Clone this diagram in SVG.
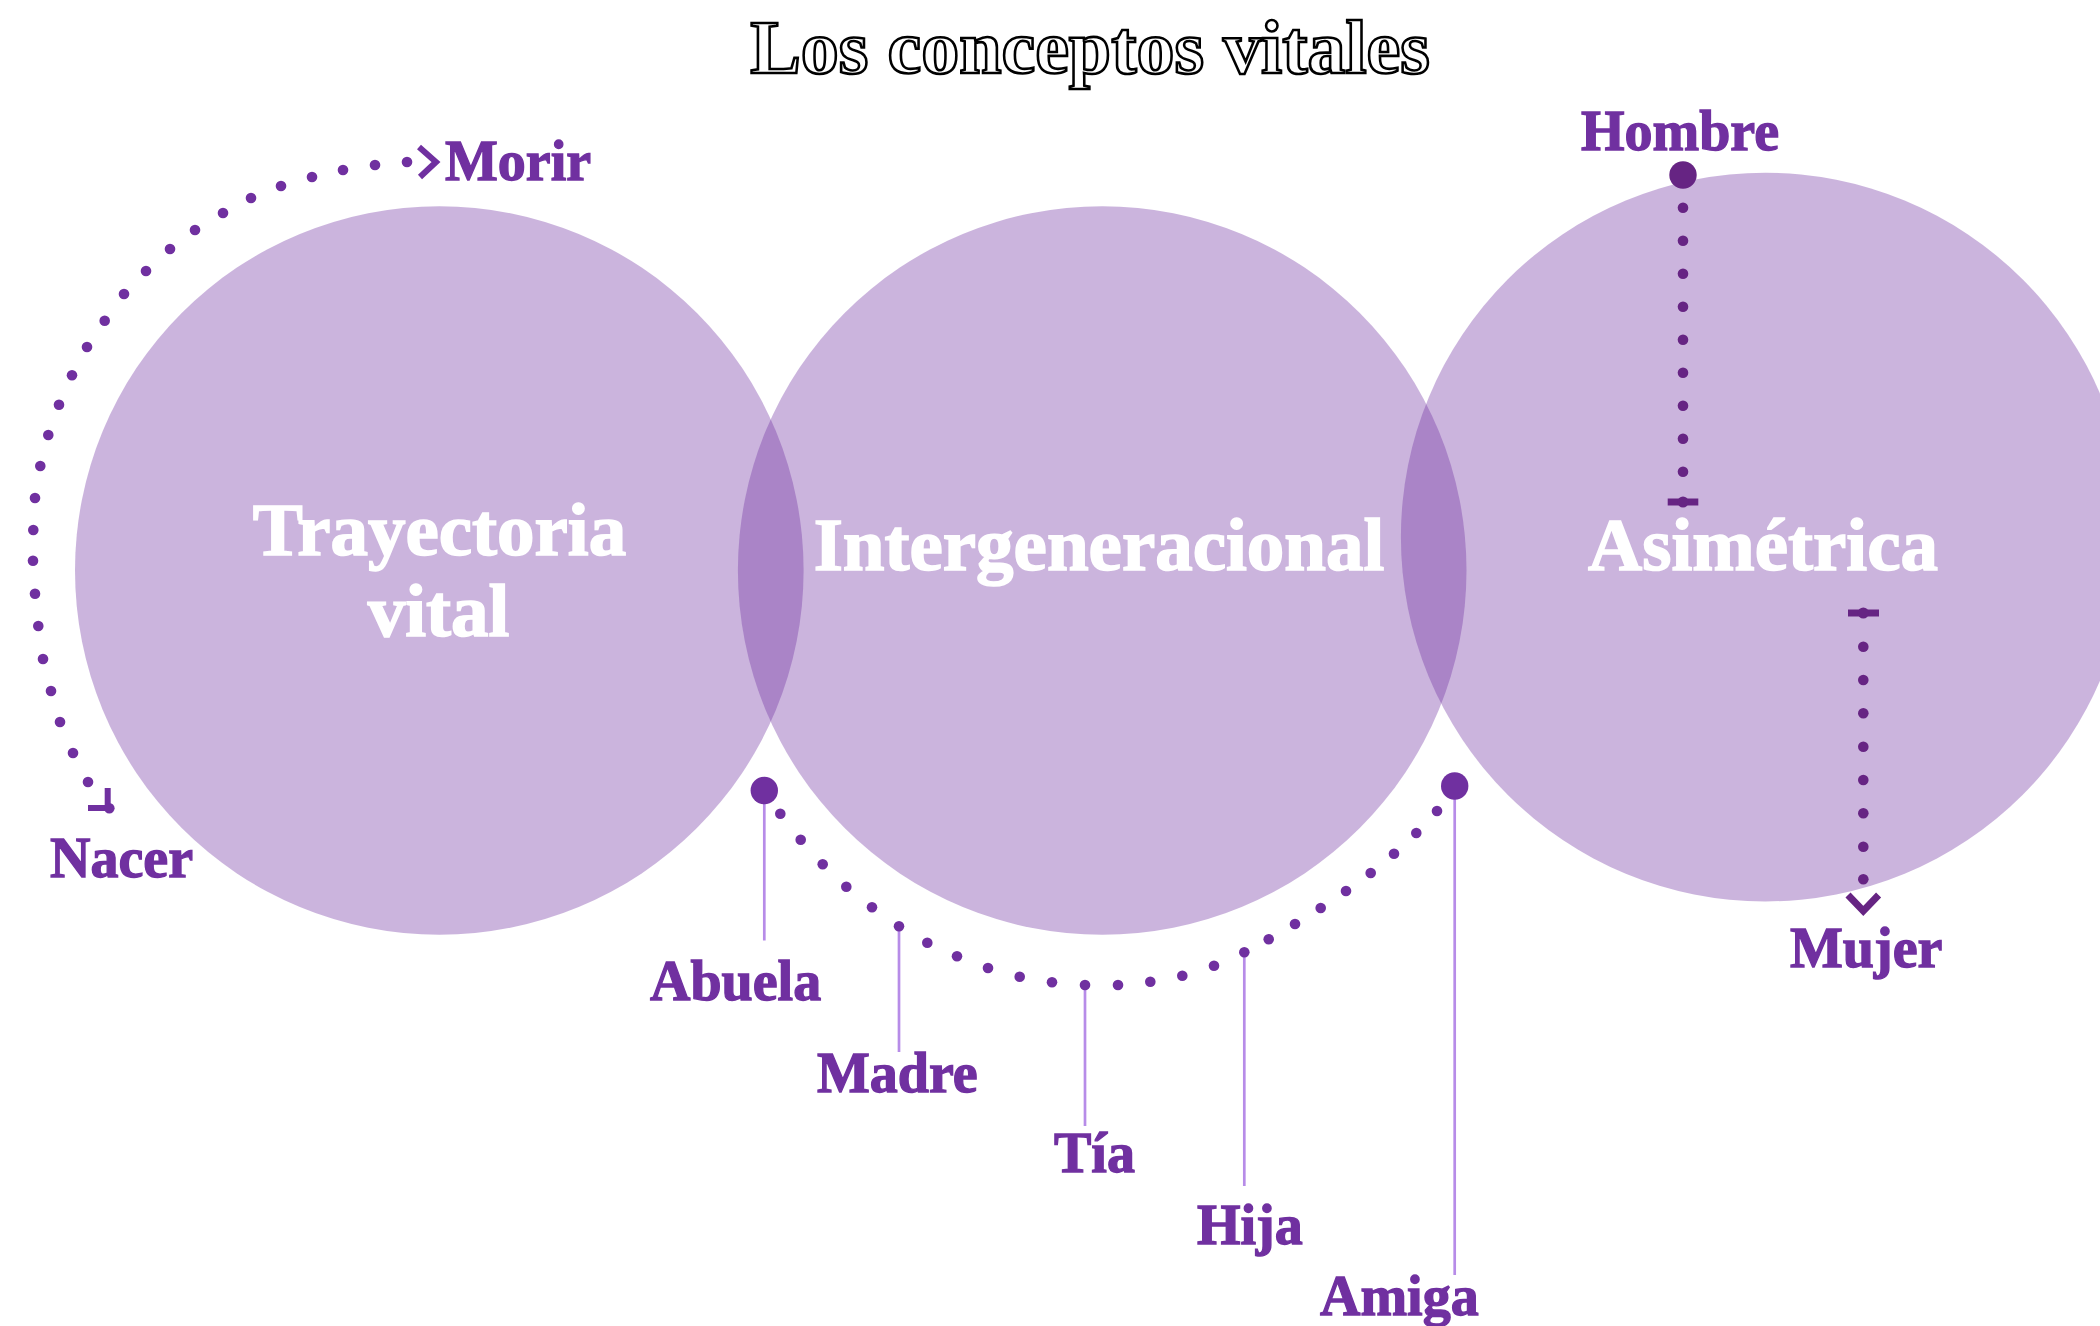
<svg xmlns="http://www.w3.org/2000/svg" width="2100" height="1326" viewBox="0 0 2100 1326">
<style>
.circ{fill:#7030a0;fill-opacity:0.36}
.big{font-family:"Liberation Serif","Times New Roman",serif;font-weight:700;font-size:75px;fill:#ffffff;stroke:#ffffff;stroke-width:1.6;text-anchor:middle}
.lbl{font-family:"Liberation Serif","Times New Roman",serif;font-weight:700;font-size:56px;fill:#7030a0;stroke:#7030a0;stroke-width:1.3}
.title{font-family:"Liberation Serif","Times New Roman",serif;font-weight:700;font-size:76px;fill:#ffffff;stroke:#000000;stroke-width:2.6;text-anchor:middle}
.d{fill:#7030a0}
.dd{fill:#662483}
.stem{stroke:#b78ce8;stroke-width:2.7;fill:none}
.mk{stroke:#7030a0;stroke-width:6;fill:none}
.mkd{stroke:#662483;stroke-width:7;fill:none}
</style>
<rect width="2100" height="1326" fill="#ffffff"/>
<g id="title"><text class="title" x="1090" y="73">Los conceptos vitales</text></g>
<g id="node-trayectoria">
<circle class="circ" cx="439.3" cy="570.5" r="364.3"/>
<text class="big" x="439.5" y="555">Trayectoria</text>
<text class="big" x="438.5" y="636">vital</text>
</g>
<g id="node-intergeneracional">
<circle class="circ" cx="1102.2" cy="570.5" r="364.3"/>
<text class="big" x="1099" y="570">Intergeneracional</text>
</g>
<g id="node-asimetrica">
<circle class="circ" cx="1765.2" cy="537.1" r="364.3"/>
<text class="big" x="1763" y="570">Asimétrica</text>
</g>
<g id="connectors">
<g id="arc-vida" class="d">
<path class="mk" d="M88,808 H113 M107.7,788 V810"/>
<circle cx="109.3" cy="808.3" r="5.3"/>
<circle cx="88" cy="782" r="5.3"/><circle cx="73" cy="753" r="5.3"/><circle cx="60" cy="722" r="5.3"/><circle cx="51" cy="691" r="5.3"/><circle cx="43" cy="659" r="5.3"/><circle cx="38.3" cy="626" r="5.3"/><circle cx="35" cy="593.7" r="5.3"/><circle cx="33" cy="560.7" r="5.3"/><circle cx="33.3" cy="530" r="5.3"/><circle cx="35" cy="498" r="5.3"/><circle cx="40.3" cy="466" r="5.3"/><circle cx="48.3" cy="435" r="5.3"/><circle cx="59" cy="404.7" r="5.3"/><circle cx="72" cy="375.3" r="5.3"/><circle cx="87" cy="347" r="5.3"/><circle cx="104.7" cy="320.7" r="5.3"/><circle cx="124" cy="294" r="5.3"/><circle cx="146" cy="271" r="5.3"/><circle cx="170" cy="249" r="5.3"/><circle cx="195" cy="230" r="5.3"/><circle cx="223" cy="213" r="5.3"/><circle cx="251" cy="198" r="5.3"/><circle cx="281" cy="186" r="5.3"/><circle cx="312" cy="177" r="5.3"/><circle cx="343" cy="170" r="5.3"/><circle cx="375" cy="165" r="5.3"/><circle cx="407" cy="162" r="5.3"/>
<path class="mk" d="M419,147 L436,162 L420,177"/>
</g>
<g id="arc-familia">
<line class="stem" x1="764.3" y1="790" x2="764.3" y2="940.5"/>
<line class="stem" x1="899" y1="926" x2="899" y2="1052"/>
<line class="stem" x1="1085" y1="985" x2="1085" y2="1126"/>
<line class="stem" x1="1244.3" y1="952" x2="1244.3" y2="1186"/>
<line class="stem" x1="1454.7" y1="786" x2="1454.7" y2="1275"/>
<g class="d">
<circle cx="764.3" cy="790.5" r="13.7"/>
<circle cx="1454.7" cy="786" r="13.7"/>
<circle cx="780.3" cy="813.7" r="5.3"/><circle cx="800.7" cy="839.7" r="5.3"/><circle cx="822.7" cy="864.3" r="5.3"/><circle cx="846.3" cy="886.7" r="5.3"/><circle cx="872" cy="907.3" r="5.3"/><circle cx="899" cy="926.3" r="5.3"/><circle cx="927.3" cy="942.7" r="5.3"/><circle cx="957" cy="956.3" r="5.3"/><circle cx="988" cy="968" r="5.3"/><circle cx="1019.7" cy="976.7" r="5.3"/><circle cx="1052" cy="982.3" r="5.3"/><circle cx="1085" cy="985" r="5.3"/><circle cx="1118" cy="985" r="5.3"/><circle cx="1150.3" cy="981.7" r="5.3"/><circle cx="1182.3" cy="975.7" r="5.3"/><circle cx="1214" cy="965.7" r="5.3"/><circle cx="1244.3" cy="952.3" r="5.3"/><circle cx="1268.7" cy="939.3" r="5.3"/><circle cx="1295" cy="924" r="5.3"/><circle cx="1320.7" cy="908" r="5.3"/><circle cx="1346" cy="891" r="5.3"/><circle cx="1370.7" cy="873" r="5.3"/><circle cx="1394" cy="853.7" r="5.3"/><circle cx="1416.3" cy="833" r="5.3"/><circle cx="1437" cy="811" r="5.3"/>
</g>
</g>
<g id="linea-hombre" class="dd">
<circle cx="1683" cy="175" r="13.7"/>
<circle cx="1683" cy="207.7" r="5.3"/><circle cx="1683" cy="240.7" r="5.3"/><circle cx="1683" cy="273.7" r="5.3"/><circle cx="1683" cy="306.7" r="5.3"/><circle cx="1683" cy="339.7" r="5.3"/><circle cx="1683" cy="372.7" r="5.3"/><circle cx="1683" cy="405.7" r="5.3"/><circle cx="1683" cy="438.7" r="5.3"/><circle cx="1683" cy="471.7" r="5.3"/>
<path class="mkd" d="M1667.7,502 H1698.3"/>
<circle cx="1683" cy="502" r="5.5"/>
</g>
<g id="linea-mujer" class="dd">
<path class="mkd" d="M1848,613 H1879"/>
<circle cx="1863.3" cy="613" r="5.5"/>
<circle cx="1863.3" cy="646.7" r="5.3"/><circle cx="1863.3" cy="680" r="5.3"/><circle cx="1863.3" cy="713.3" r="5.3"/><circle cx="1863.3" cy="746.7" r="5.3"/><circle cx="1863.3" cy="780" r="5.3"/><circle cx="1863.3" cy="813.3" r="5.3"/><circle cx="1863.3" cy="846.7" r="5.3"/><circle cx="1863.3" cy="879.3" r="5.3"/>
<path class="mkd" d="M1848,895 L1863.3,911 L1878.6,895"/>
</g>
</g>
<g id="label-morir"><text class="lbl" x="445" y="180">Morir</text></g>
<g id="label-nacer"><text class="lbl" x="50" y="877">Nacer</text></g>
<g id="label-hombre"><text class="lbl" x="1581" y="150">Hombre</text></g>
<g id="label-mujer"><text class="lbl" x="1790" y="967">Mujer</text></g>
<g id="label-abuela"><text class="lbl" x="650" y="1000">Abuela</text></g>
<g id="label-madre"><text class="lbl" x="817" y="1092">Madre</text></g>
<g id="label-tia"><text class="lbl" x="1054" y="1172">Tía</text></g>
<g id="label-hija"><text class="lbl" x="1197" y="1244">Hija</text></g>
<g id="label-amiga"><text class="lbl" x="1320" y="1315">Amiga</text></g>
</svg>
